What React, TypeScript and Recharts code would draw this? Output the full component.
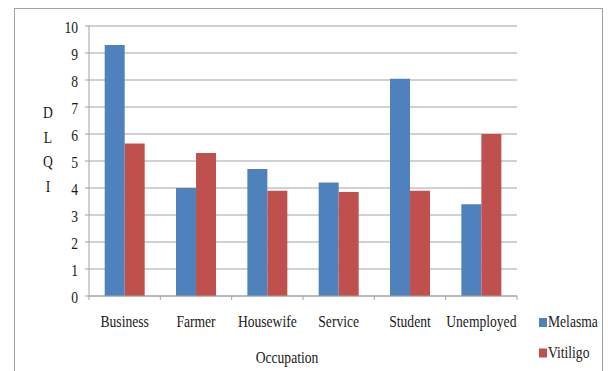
import React from 'react';
import { BarChart, Bar, XAxis, YAxis, CartesianGrid, Legend } from 'recharts';

// Mean DLQI score by occupation for each condition
const occupations = ['Business', 'Farmer', 'Housewife', 'Service', 'Student', 'Unemployed'];
const melasmaScores = [9.3, 4.0, 4.7, 4.2, 8.05, 3.4];
const vitiligoScores = [5.65, 5.3, 3.9, 3.85, 3.9, 6.0];
const yTickValues = [0, 1, 2, 3, 4, 5, 6, 7, 8, 9, 10];
const yAxisLetters = ['D', 'L', 'Q', 'I'];
const seriesNames = ['Melasma', 'Vitiligo'];
const seriesColors = ['#4F81BD', '#C0504D'];

const data = occupations.map((occupation, i) => ({
  occupation,
  Melasma: melasmaScores[i],
  Vitiligo: vitiligoScores[i],
}));

const FONT = '"Liberation Serif", "Times New Roman", serif';
const TEXT = '#1a1a1a';
const LINE = '#a3a3a3';

// Serif text, narrowed horizontally like the Office rendering
const NarrowText = ({ x, y, anchor, children }: any) => (
  <g transform={`translate(${x},${y}) scale(0.8,1)`}>
    <text x={0} y={0} textAnchor={anchor} fontFamily={FONT} fontSize={17} fill={TEXT}>
      {children}
    </text>
  </g>
);

const YTick = (props: any) => {
  const { x, y, payload } = props;
  return <NarrowText x={x} y={y + 6.5} anchor="end">{payload.value}</NarrowText>;
};

// Category label plus tick marks on the category boundaries
const XTick = (props: any) => {
  const { x, y, payload, width, visibleTicksCount, index } = props;
  const half = width / (2 * visibleTicksCount);
  return (
    <g>
      <line x1={x - half} x2={x - half} y1={y} y2={y + 4} stroke={LINE} />
      {index === visibleTicksCount - 1 && (
        <line x1={x + half} x2={x + half} y1={y} y2={y + 4} stroke={LINE} />
      )}
      <NarrowText x={x} y={y + 31} anchor="middle">{payload.value}</NarrowText>
    </g>
  );
};

const YLabel = (props: any) => {
  const { viewBox } = props;
  const cy = viewBox.y + viewBox.height / 2;
  return (
    <g>
      {yAxisLetters.map((ch, i) => (
        <NarrowText key={ch} x={48} y={cy - 49 + i * 24.5 + 6} anchor="middle">{ch}</NarrowText>
      ))}
    </g>
  );
};

const XLabel = (props: any) => {
  const { viewBox } = props;
  return (
    <NarrowText x={viewBox.x + viewBox.width / 2 - 16} y={viewBox.y + 67} anchor="middle">
      Occupation
    </NarrowText>
  );
};

const LegendContent = (props: any) => {
  const { payload } = props;
  return (
    <svg width={70} height={60} style={{ display: 'block' }}>
      {payload.map((entry: any, i: number) => (
        <g key={entry.value}>
          <rect x={3} y={5 + i * 30.5} width={8} height={9} fill={entry.color} />
          <NarrowText x={12} y={14 + i * 30.5} anchor="start">{entry.value}</NarrowText>
        </g>
      ))}
    </svg>
  );
};

export default function App() {
  return (
    <div style={{ position: 'absolute', left: 0, top: 0, width: 608, height: 371, background: '#fff', overflow: 'hidden' }}>
      <div
        style={{
          position: 'absolute',
          left: 14,
          top: 8,
          width: 589,
          height: 400,
          border: `1px solid ${LINE}`,
          boxSizing: 'border-box',
        }}
      />
      <div style={{ position: 'absolute', left: 0, top: 0 }}>
        <BarChart
          width={608}
          height={371}
          data={data}
          margin={{ top: 26, right: 91, bottom: 0, left: 0 }}
          barCategoryGap="22%"
          barGap={0}
        >
          <CartesianGrid vertical={false} stroke={LINE} strokeWidth={1} />
          <XAxis
            dataKey="occupation"
            height={75}
            tickLine={false}
            tickSize={0}
            tickMargin={0}
            axisLine={{ stroke: LINE }}
            tick={<XTick />}
            interval={0}
            label={<XLabel />}
          />
          <YAxis
            width={89}
            domain={[0, 10]}
            ticks={yTickValues}
            interval={0}
            tickSize={4}
            tickMargin={7}
            tickLine={{ stroke: LINE }}
            axisLine={{ stroke: LINE }}
            tick={<YTick />}
            label={<YLabel />}
          />
          <Legend
            layout="vertical"
            align="center"
            verticalAlign="middle"
            wrapperStyle={{ position: 'absolute', left: 536, top: 313, width: 70 }}
            content={<LegendContent />}
          />
          {seriesNames.map((name, i) => (
            <Bar key={name} dataKey={name} fill={seriesColors[i]} isAnimationActive={false} />
          ))}
        </BarChart>
      </div>
    </div>
  );
}
